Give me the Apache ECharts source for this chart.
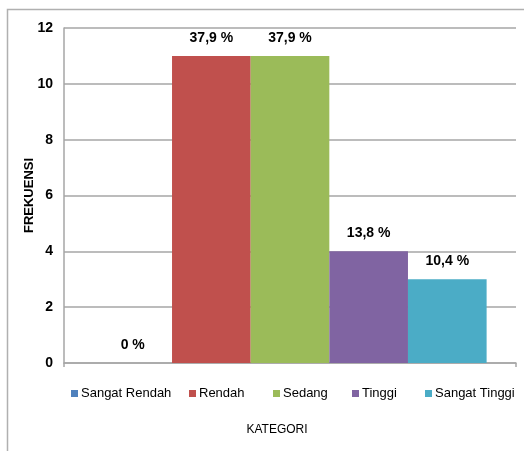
<!DOCTYPE html>
<html>
<head>
<meta charset="utf-8">
<script src="https://cdn.jsdelivr.net/npm/echarts@6/dist/echarts.min.js"></script>
<style>
  html, body { margin: 0; padding: 0; background: #ffffff; }
  #chart { width: 524px; height: 451px; }
</style>
</head>
<body>
<div id="chart"></div>
<script>
// Frequency of respondents per category
const categories = ['Sangat Rendah', 'Rendah', 'Sedang', 'Tinggi', 'Sangat Tinggi'];
const frequencies = [0, 11, 11, 4, 3];
const percentLabels = ['0 %', '37,9 %', '37,9 %', '13,8 %', '10,4 %'];
const yTicks = { min: 0, max: 12, interval: 2 };
const palette = ['#4F81BD', '#C0504D', '#9BBB59', '#8064A2', '#4BACC6'];

// Horizontal start of each legend entry along the bottom row
const legendLeft = [66, 184, 268, 347, 420];

const font = '"Liberation Sans", Arial, sans-serif';
const gridGray = '#a6a6a6';

const chart = echarts.init(document.getElementById('chart'), null, { renderer: 'canvas' });

const series = categories.map((name, i) => ({
  name: name,
  type: 'bar',
  data: [frequencies[i]],
  barGap: '0%',
  barCategoryGap: '13%',
  itemStyle: { color: palette[i] },
  label: {
    show: true,
    position: 'top',
    distance: 11,
    formatter: () => percentLabels[i],
    fontFamily: font,
    fontWeight: 'bold',
    fontSize: 14,
    color: '#000000'
  }
}));

const legends = categories.map((name, i) => ({
  data: [name],
  left: legendLeft[i],
  top: 382,
  itemWidth: 7,
  itemHeight: 7,
  icon: 'rect',
  selectedMode: false,
  textStyle: { fontFamily: font, fontSize: 13, color: '#000000', padding: [0, 0, 0, -2] }
}));

chart.setOption({
  animation: false,
  backgroundColor: '#ffffff',
  color: palette,
  graphic: [{
    type: 'rect',
    shape: { x: 7.5, y: 9.5, width: 600, height: 600 },
    style: { fill: 'none', stroke: '#b0b0b0', lineWidth: 1.5 },
    silent: true
  }],
  grid: { left: 64, top: 28, right: 8, bottom: 88 },
  legend: legends,
  xAxis: {
    type: 'category',
    data: [''],
    name: 'KATEGORI',
    nameLocation: 'middle',
    nameGap: 61,
    nameTextStyle: { fontFamily: font, fontSize: 12, color: '#000000', padding: [0, 26, 0, 0] },
    axisLine: { lineStyle: { color: gridGray, width: 1.5 } },
    axisTick: { show: true, length: 4, lineStyle: { color: gridGray, width: 1.5 } },
    axisLabel: { show: false }
  },
  yAxis: {
    type: 'value',
    min: yTicks.min,
    max: yTicks.max,
    interval: yTicks.interval,
    name: 'FREKUENSI',
    nameLocation: 'middle',
    nameRotate: 90,
    nameGap: 28,
    nameMoveOverlap: false,
    nameTextStyle: { fontFamily: font, fontWeight: 'bold', fontSize: 13, color: '#000000' },
    axisLine: { show: true, lineStyle: { color: gridGray, width: 1.5 } },
    axisTick: { show: false },
    axisLabel: { margin: 11, fontFamily: font, fontWeight: 'bold', fontSize: 14, color: '#000000' },
    splitLine: { lineStyle: { color: gridGray, width: 1.5 } }
  },
  series: series
});
</script>
</body>
</html>
